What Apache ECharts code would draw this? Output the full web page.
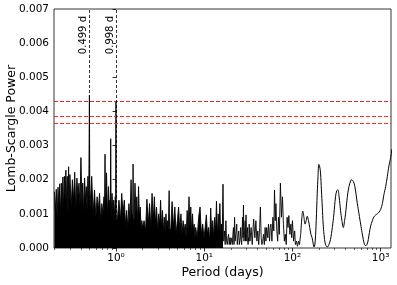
<!DOCTYPE html>
<html><head><meta charset="utf-8">
<script src="https://cdn.jsdelivr.net/npm/echarts@6/dist/echarts.min.js"></script>
<style>html,body{margin:0;padding:0;background:#fff}#c{width:397px;height:285px}</style>
</head><body><div id="c"></div>
<script>
// Periodogram samples: [period (days), Lomb-Scargle power]
const segA = [[0.200,0.00165],[0.205,0.0011],[0.210,0.00172],[0.215,0.0009],[0.220,0.00178],[0.225,0.0012],[0.230,0.00188],[0.235,0.0010],[0.240,0.0019],[0.245,0.0013],[0.250,0.00208],[0.255,0.0011],[0.260,0.0021],[0.265,0.0014],[0.270,0.00228],[0.275,0.0012],[0.280,0.0021],[0.285,0.0010],[0.290,0.00238],[0.295,0.0013],[0.300,0.00215]];
const segB = [[0.31,0.0012],[0.32,0.0020],[0.33,0.0014],[0.34,0.00222],[0.35,0.0011],[0.36,0.00205],[0.37,0.0015],[0.38,0.0019],[0.39,0.0012],[0.40,0.00265],[0.41,0.0013],[0.42,0.0019],[0.43,0.0010],[0.44,0.00205],[0.45,0.0014],[0.46,0.0018],[0.47,0.0011],[0.48,0.0021],[0.49,0.0012],[0.499,0.00447],[0.505,0.0011]];
const segC = [[0.51,0.0013],[0.53,0.0021],[0.55,0.0010],[0.57,0.0017],[0.59,0.0009],[0.61,0.0015],[0.63,0.0011],[0.65,0.0016],[0.67,0.0008],[0.69,0.0013],[0.71,0.0010],[0.73,0.0015],[0.74,0.0009],[0.75,0.00275],[0.76,0.0010],[0.78,0.0022],[0.80,0.0009],[0.82,0.0018],[0.84,0.0011],[0.85,0.0014],[0.86,0.0010],[0.87,0.0032],[0.88,0.0009],[0.90,0.0016],[0.92,0.0011],[0.94,0.0014],[0.96,0.0009],[0.98,0.0015],[0.99,0.0010],[0.998,0.0043],[1.005,0.0008]];
const segD = [[1.04,0.0009],[1.08,0.0014],[1.12,0.0008],[1.16,0.0016],[1.20,0.0010],[1.24,0.0014],[1.28,0.0007],[1.32,0.0011],[1.36,0.0006],[1.40,0.0013],[1.44,0.0008],[1.48,0.0020],[1.52,0.0009],[1.55,0.0010],[1.56,0.00246],[1.57,0.0009],[1.60,0.0008],[1.64,0.0019],[1.68,0.0010],[1.72,0.0015],[1.76,0.0007],[1.80,0.0018],[1.84,0.0009],[1.88,0.0012],[1.92,0.0006],[1.96,0.0008],[2.00,0.0006]];
const segE = [[2.08,0.0008],[2.16,0.0005],[2.24,0.00143],[2.32,0.0007],[2.40,0.0013],[2.48,0.0006],[2.56,0.0016],[2.64,0.0008],[2.72,0.0015],[2.80,0.0007],[2.88,0.0012],[2.96,0.0005],[3.04,0.0010],[3.12,0.0007],[3.20,0.0014],[3.28,0.0006],[3.36,0.0011],[3.44,0.0005],[3.52,0.0009],[3.60,0.0005],[3.68,0.0010],[3.76,0.0006],[3.84,0.0008],[3.92,0.0005],[4.00,0.00168]];
const segF = [[4.04,0.0006],[4.16,0.0005],[4.32,0.00136],[4.48,0.0006],[4.64,0.0012],[4.80,0.0004],[4.96,0.0008],[5.12,0.0012],[5.28,0.0005],[5.44,0.0010],[5.60,0.0004],[5.76,0.0008],[5.92,0.0005],[6.08,0.0007],[6.24,0.0003],[6.40,0.0011],[6.56,0.0005],[6.72,0.0015],[6.88,0.0006],[7.04,0.0012],[7.20,0.0004],[7.36,0.0010],[7.52,0.0005],[7.68,0.0007],[7.84,0.0003],[8.00,0.0006]];
const segG = [[8.32,0.0003],[8.64,0.0009],[8.96,0.0012],[9.28,0.0004],[9.60,0.0007],[9.92,0.0003],[10.24,0.0006],[10.56,0.00097],[10.88,0.0004],[11.20,0.0006],[11.52,0.0002],[11.84,0.00117],[12.16,0.0004],[12.48,0.0008],[12.80,0.0003],[13.12,0.0009],[13.44,0.0005],[13.76,0.00137],[14.08,0.0003],[14.40,0.0010],[14.72,0.0005],[15.04,0.0013],[15.36,0.0003],[15.68,0.0007],[16.00,0.0004]];
const segH = [[16.32,0.00187],[16.64,0.0002],[16.96,0.0005],[17.28,0.0001],[17.60,0.0008],[17.92,0.0002],[18.24,0.0001],[18.56,0.0003],[18.88,0.0004],[19.20,0.0001],[19.52,0.0003],[19.84,0.0001],[20.16,0.0003],[20.48,0.0002],[20.80,0.0001],[21.12,0.0004],[21.44,0.0006],[21.76,0.0001],[22.08,0.0009],[22.40,0.0002],[22.72,0.0002],[23.04,0.0005],[23.36,0.0007],[23.68,0.0001],[24.00,0.0001],[24.32,0.0004],[24.64,0.0005],[24.96,0.0001],[25.28,0.0002],[25.60,0.0003],[25.92,0.0006],[26.24,0.0002],[26.56,0.0001],[26.88,0.0005],[27.20,0.0009],[27.52,0.0003],[27.84,0.00126],[28.16,0.0002],[28.48,0.0003],[28.80,0.0006],[29.12,0.0008],[29.44,0.0002],[29.76,0.00097],[30.08,0.0004],[30.40,0.0002],[30.72,0.0004],[31.04,0.0006],[31.36,0.0001],[31.68,0.0003],[32.00,0.0002],[32.32,0.0007]];
const segI = [[33.0,0.0002],[34.0,0.0006],[35.0,0.0001],[36.3,0.00085],[37.5,0.0003],[38.5,0.0008],[39.5,0.0002],[40.5,0.0005],[41.5,0.0001],[42.5,0.0006],[43.3,0.0012],[44.2,0.0003],[45.0,0.0001],[46.0,0.0002],[47.0,0.0004],[48.0,0.0001],[49.0,0.0006],[50.0,0.0002],[51.0,0.0006],[52.5,0.0003],[53.5,0.0007],[55.0,0.0002],[56.0,0.0006],[57.0,0.0007],[58.5,0.0002],[60.0,0.0009],[61.5,0.0005],[62.6,0.0017],[63.8,0.0008],[65.0,0.0013],[66.5,0.0005],[68.0,0.0002],[69.5,0.0009],[71.0,0.0004],[73.0,0.0019],[75.0,0.0009],[77.0,0.0015],[79.0,0.0007],[81.0,0.0002],[83.0,0.0004],[85.0,0.0001],[87.0,0.0009],[89.0,0.0006],[91.0,0.00095],[93.5,0.0004],[96.0,0.0007],[98.0,0.0003],[100,0.0008],[103,0.0002],[106,0.0005],[108,0.0001],[111,0.0002],[114,0.00005],[117,0.0002],[120,0.0001],[124,0.0004]];
const segLong = [[124,0.0004],[128,0.0009],[131,0.00108],[135,0.0009],[139,0.0007],[143,0.0008],[147,0.00093],[152,0.0008],[157,0.0006],[162,0.0004],[167,0.0003],[172,0.00012],[176,0.00003],[181,0.0002],[186,0.0008],[191,0.0016],[195,0.0021],[199,0.00245],[203,0.0024],[208,0.0022],[213,0.0017],[218,0.0012],[223,0.0007],[228,0.0004],[237,0.0001],[248,0.00003],[259,0.0001],[270,0.00025],[283,0.0006],[295,0.001],[308,0.0015],[318,0.00168],[327,0.0017],[338,0.0015],[351,0.0011],[364,0.0008],[377,0.0006],[390,0.0008],[400,0.001],[415,0.0014],[430,0.0017],[448,0.0019],[468,0.002],[490,0.00195],[510,0.0018],[544,0.0013],[568,0.001],[593,0.0007],[615,0.00045],[636,0.00025],[656,0.0001],[676,0.00007],[700,0.0001],[724,0.00025],[745,0.00045],[770,0.00064],[805,0.0008],[839,0.00091],[880,0.00097],[917,0.001],[960,0.00105],[1000,0.00113],[1045,0.0013],[1090,0.00157],[1140,0.0018],[1191,0.0021],[1240,0.0024],[1299,0.00265],[1340,0.0029]];

const peakPeriods = [0.499, 0.998];
const peakLabels = ['0.499 d', '0.998 d'];
const thresholds = [0.00431, 0.00385, 0.00364];
const thresholdColors = ['#e02828', '#ff2a2a', '#ff2a2a'];
const xMajorTicks = [1, 10, 100, 1000];
const xMinorTicks = [0.2,0.3,0.4,0.5,0.6,0.7,0.8,0.9,2,3,4,5,6,7,8,9,20,30,40,50,60,70,80,90,200,300,400,500,600,700,800,900];
const supers = {'0':'\u2070','1':'\u00b9','2':'\u00b2','3':'\u00b3'};
const xMin = 0.198, xMax = 1310;

// the x axis is a linear axis in log10(period)
const lg = Math.log10;
const toLog = seg => seg.map(d => [lg(d[0]), d[1]]);
const denseData = toLog([].concat(segA, segB, segC, segD, segE, segF, segG, [segH[0]]));
const sparseData = toLog([].concat(segH, segI));
const longData = toLog(segLong);
const FONT = 'DejaVu Sans';

const thresholdSeries = thresholds.map((t, i) => ({
  type: 'line', data: [], silent: true, color: thresholdColors[i],
  itemStyle: {color: thresholdColors[i]}, lineStyle: {color: thresholdColors[i]},
  markLine: {symbol: 'none', silent: true, animation: false, precision: 8,
    itemStyle: {color: thresholdColors[i]},
    lineStyle: {color: thresholdColors[i], type: [4, 2], width: 1, opacity: 1},
    label: {show: false},
    data: [{yAxis: t, lineStyle: {color: thresholdColors[i]}}]}
}));
const peakSeries = peakPeriods.map((p, i) => ({
  type: 'line', data: [], silent: true, color: '#000',
  markLine: {symbol: 'none', silent: true, animation: false, precision: 8,
    lineStyle: {color: '#000', type: [3, 2], width: 0.8},
    label: {show: true, formatter: peakLabels[i], position: 'insideEndTop', color: '#000',
            fontFamily: FONT, fontSize: 10, distance: [7, 1]},
    data: [{xAxis: lg(p)}]}
}));

const chart = echarts.init(document.getElementById('c'), null, {renderer: 'canvas'});
chart.setOption({
  animation: false,
  grid: {left: 54, right: 6, top: 9, bottom: 37, containLabel: false, outerBoundsMode: 'none',
         show: true, borderColor: '#000', borderWidth: 0.8, backgroundColor: 'transparent'},
  xAxis: [
    {type: 'value', min: lg(xMin), max: lg(xMax), position: 'bottom',
     axisLine: {show: false}, splitLine: {show: false},
     axisTick: {show: true, length: 3.5, customValues: xMajorTicks.map(lg), lineStyle: {color: '#000', width: 0.8}},
     axisLabel: {customValues: xMajorTicks.map(lg), color: '#000', fontFamily: FONT, fontSize: 10.5, margin: 5,
       formatter: v => '10' + supers[String(Math.round(v))]},
     name: 'Period (days)', nameLocation: 'middle', nameGap: 18, nameMoveOverlap: false,
     nameTextStyle: {color: '#000', fontFamily: FONT, fontSize: 12.5}},
    {type: 'value', min: lg(xMin), max: lg(xMax), position: 'bottom',
     axisLine: {show: false}, splitLine: {show: false},
     axisTick: {show: true, length: 2, customValues: xMinorTicks.map(lg), lineStyle: {color: '#000', width: 0.6}},
     axisLabel: {show: false}}
  ],
  yAxis: {type: 'value', min: 0, max: 0.007, interval: 0.001,
    axisLine: {show: false}, splitLine: {show: false},
    axisTick: {show: true, length: 3.5, lineStyle: {color: '#000', width: 0.8}},
    axisLabel: {color: '#000', fontFamily: FONT, fontSize: 10.5, margin: 5, formatter: v => v.toFixed(3)},
    name: 'Lomb-Scargle Power', nameLocation: 'middle', nameGap: 36, nameMoveOverlap: false,
    nameTextStyle: {color: '#000', fontFamily: FONT, fontSize: 12.5}},
  series: [
    {type: 'line', data: denseData, showSymbol: false, symbol: 'none',
     lineStyle: {color: '#000', width: 0.9}, areaStyle: {color: '#000', opacity: 1}, clip: true, silent: true},
    {type: 'line', data: sparseData, showSymbol: false, symbol: 'none',
     lineStyle: {color: '#000', width: 0.9}, clip: true, silent: true},
    {type: 'line', data: longData, showSymbol: false, symbol: 'none', smooth: 0.4,
     lineStyle: {color: '#000', width: 1}, clip: true, silent: true}
  ].concat(thresholdSeries, peakSeries)
});
</script></body></html>
